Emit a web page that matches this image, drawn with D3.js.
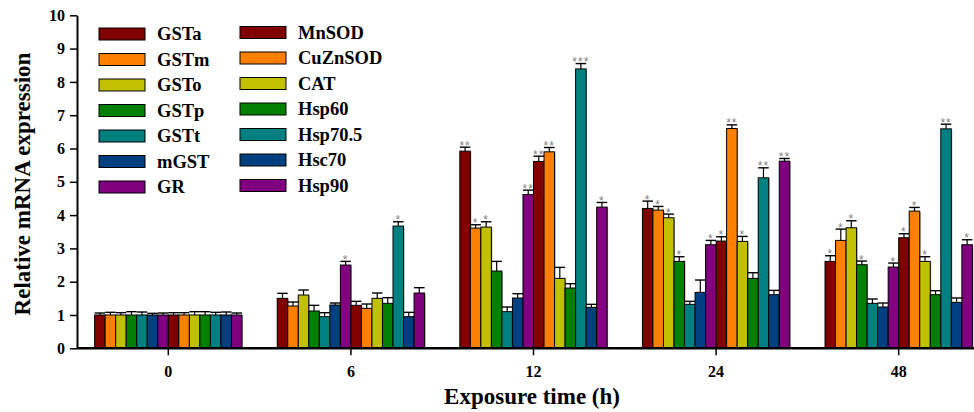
<!DOCTYPE html>
<html><head><meta charset="utf-8">
<script src="https://cdn.jsdelivr.net/npm/d3@7"></script>
<style>body{margin:0;background:#fff}svg{display:block}text{font-family:"Liberation Serif","Times New Roman",serif;font-weight:bold}</style>
</head><body><svg id="c" width="974" height="412"></svg>
<script>
const groups = ["0","6","12","24","48"];
const series = ["GSTa","GSTm","GSTo","GSTp","GSTt","mGST","GR","MnSOD","CuZnSOD","CAT","Hsp60","Hsp70.5","Hsc70","Hsp90"];
const colors = ["#800000","#FF8000","#C0C000","#008000","#008080","#004080","#800080","#800000","#FF8000","#C0C000","#008000","#008080","#004080","#800080"];
// values per group (rows) per series (columns)
const values = [
  [1.0,1.0,1.0,1.0,1.0,1.0,1.0,1.0,1.0,1.0,1.0,1.0,1.0,1.0],
  [1.50,1.27,1.60,1.12,0.95,1.30,2.50,1.29,1.20,1.50,1.35,3.67,0.95,1.66],
  [5.92,3.61,3.64,2.32,1.10,1.51,4.62,5.61,5.90,2.10,1.81,8.39,1.23,4.24],
  [4.20,4.15,3.92,2.61,1.32,1.68,3.11,3.22,6.60,3.21,2.10,5.12,1.61,5.62],
  [2.61,3.24,3.62,2.51,1.35,1.24,2.44,3.32,4.12,2.61,1.61,6.59,1.38,3.11]
];
const errors = [
  [0.06,0.08,0.07,0.10,0.09,0.05,0.06,0.07,0.07,0.10,0.10,0.08,0.09,0.06],
  [0.15,0.12,0.15,0.17,0.12,0.06,0.11,0.12,0.13,0.16,0.17,0.13,0.13,0.16],
  [0.12,0.10,0.16,0.29,0.14,0.13,0.13,0.16,0.13,0.33,0.13,0.16,0.09,0.14],
  [0.22,0.11,0.11,0.14,0.09,0.37,0.13,0.13,0.11,0.15,0.17,0.30,0.13,0.08],
  [0.17,0.34,0.21,0.11,0.13,0.12,0.12,0.12,0.11,0.14,0.12,0.14,0.13,0.15]
];
const signif = [
  ["","","","","","","","","","","","","",""],
  ["","","","","","","*","","","","","*","",""],
  ["**","*","*","","","","**","**","**","","","***","","*"],
  ["*","*","*","*","","","*","*","**","*","","**","","**"],
  ["*","*","*","*","","","*","*","*","*","","**","","*"]
];
const yTicks = [0,1,2,3,4,5,6,7,8,9,10];

const svg = d3.select("#c");
const x0 = d3.scaleBand().domain(groups).range([77, 990]).paddingInner(0.193).paddingOuter(0.0965);
const x1 = d3.scaleBand().domain(series).range([0, x0.bandwidth()]);
const y = d3.scaleLinear().domain([0,10]).range([348.3, 15.3]);

// bars
groups.forEach((g, gi) => {
  const gg = svg.append("g").attr("transform", `translate(${x0(g)},0)`);
  series.forEach((s, si) => {
    const v = values[gi][si], e = errors[gi][si];
    const bx = x1(s), bw = x1.bandwidth();
    gg.append("rect").attr("x", bx+1).attr("y", y(v)+1).attr("width", bw).attr("height", y(0)-y(v)-1)
      .attr("fill", "#b0b0b0");
    gg.append("rect").attr("x", bx).attr("y", y(v)).attr("width", bw).attr("height", y(0)-y(v))
      .attr("fill", colors[si]).attr("stroke", "#000").attr("stroke-width", 1);
    const cx = bx + bw/2;
    gg.append("line").attr("x1", cx).attr("x2", cx).attr("y1", y(v)).attr("y2", y(v+e)).attr("stroke","#000").attr("stroke-width",1.2);
    gg.append("line").attr("x1", cx-bw/2).attr("x2", cx+bw/2).attr("y1", y(v+e)).attr("y2", y(v+e)).attr("stroke","#000").attr("stroke-width",1.4);
    if (signif[gi][si]) {
      gg.append("text").attr("x", cx).attr("y", y(v+e)+2.5).attr("text-anchor","middle")
        .attr("font-size", 12).attr("fill", "#808080").attr("letter-spacing", 1)
        .style("font-weight","normal").style("font-family","Liberation Sans, sans-serif")
        .text(signif[gi][si]);
    }
  });
});

// y axis
const yAxis = d3.axisLeft(y).tickValues(yTicks).tickSize(7).tickSizeOuter(0).tickFormat(d3.format("d"));
const ya = svg.append("g").attr("transform","translate(77,0)").call(yAxis);
ya.select(".domain").attr("stroke","#000").attr("stroke-width",2);
ya.selectAll(".tick line").attr("stroke","#000").attr("stroke-width",1.5);
ya.selectAll(".tick text").attr("font-size",16).attr("fill","#000").attr("x",-12)
  .style("font-family","Liberation Serif, serif").style("font-weight","bold");

// x axis
const xAxis = d3.axisBottom(x0).tickSize(7).tickSizeOuter(0);
const xa = svg.append("g").attr("transform","translate(0,348.3)").call(xAxis);
xa.select(".domain").attr("stroke","#000").attr("stroke-width",2.5).attr("d","M77,0H974");
xa.selectAll(".tick line").attr("stroke","#000").attr("stroke-width",1.5);
xa.selectAll(".tick text").attr("font-size",16).attr("fill","#000").attr("y",17)
  .style("font-family","Liberation Serif, serif").style("font-weight","bold");

// axis titles
svg.append("text").attr("x", 532).attr("y", 404).attr("text-anchor","middle").attr("font-size",23).text("Exposure time (h)");
svg.append("text").attr("transform","translate(30,184) rotate(-90)").attr("text-anchor","middle").attr("font-size",23).text("Relative mRNA expression");

// legend
series.forEach((s, si) => {
  const col = si < 7 ? 0 : 1, row = si % 7;
  const lx = col === 0 ? 99 : 240;
  const ly = (col === 0 ? 34 : 32.5) + row*25.5;
  svg.append("rect").attr("x", lx).attr("y", ly-6).attr("width", 46).attr("height", 12)
    .attr("fill", colors[si]).attr("stroke","#000").attr("stroke-width",1);
  svg.append("text").attr("x", lx + 58).attr("y", ly + 6).attr("font-size", 18.5).text(s);
});
</script></body></html>
